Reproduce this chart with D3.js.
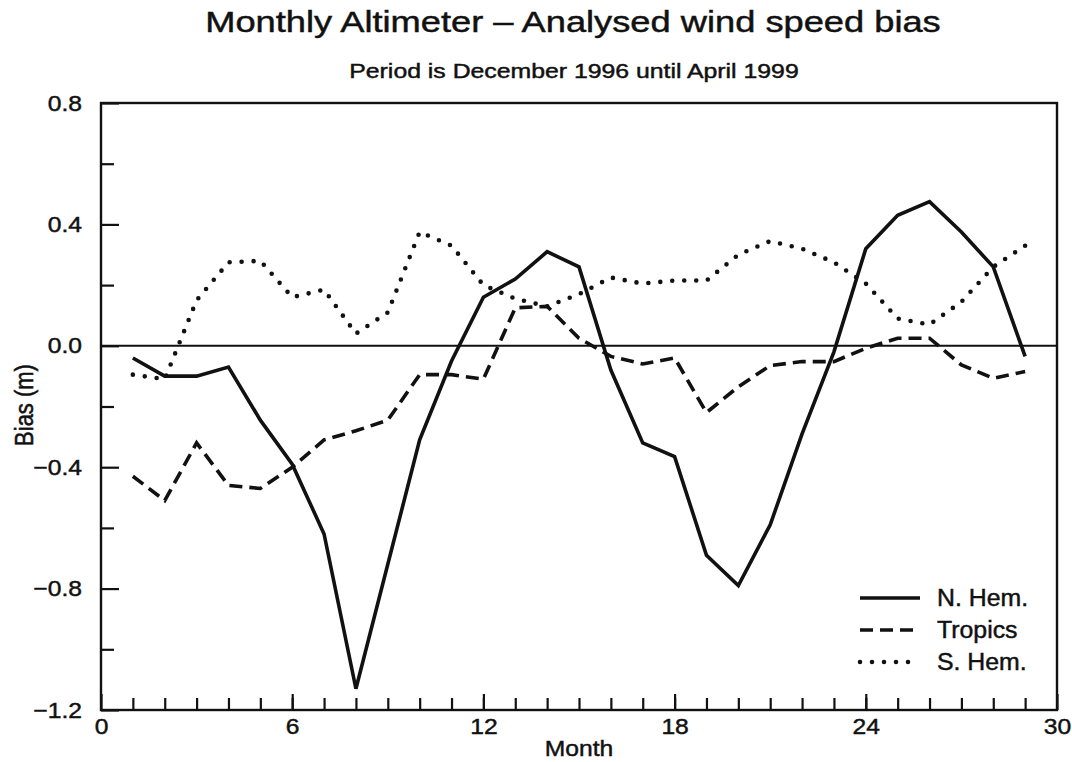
<!DOCTYPE html>
<html>
<head>
<meta charset="utf-8">
<script src="https://cdn.jsdelivr.net/npm/d3@7"></script>
<style>
  body { margin: 0; background: #fff; }
  svg { display: block; }
  text { font-family: "Liberation Sans", Arial, Helvetica, sans-serif; fill: #111; stroke: #111; stroke-width: 0.45; }
  .axis path { display: none; }
  .axis line { stroke: #111; stroke-width: 2.2; }
</style>
</head>
<body>
<svg id="chart"></svg>
<script>
// values
var months = [1,2,3,4,5,6,7,8,9,10,11,12,13,14,15,16,17,18,19,20,21,22,23,24,25,26,27,28,29];
var nHem = [-0.04,-0.10,-0.10,-0.07,-0.245,-0.39,-0.62,-1.13,-0.72,-0.31,-0.05,0.16,0.22,0.31,0.26,
            -0.08,-0.32,-0.365,-0.69,-0.79,-0.59,-0.29,-0.02,0.32,0.43,0.475,0.375,0.26,-0.035];
var tropics = [-0.43,-0.51,-0.32,-0.46,-0.47,-0.40,-0.31,-0.28,-0.245,-0.095,-0.095,-0.11,0.125,0.13,0.025,
               -0.035,-0.06,-0.04,-0.22,-0.135,-0.065,-0.052,-0.052,-0.008,0.025,0.025,-0.063,-0.107,-0.085];
var sHem = [-0.095,-0.11,0.15,0.275,0.28,0.16,0.185,0.04,0.11,0.375,0.33,0.20,0.155,0.13,0.17,
            0.225,0.205,0.215,0.215,0.30,0.345,0.32,0.275,0.205,0.09,0.07,0.145,0.26,0.33];
var xTicks = [0,6,12,18,24,30];
var yTicks = [0.8,0.4,0.0,-0.4,-0.8,-1.2];
var yMinor = [0.6,0.2,-0.2,-0.6,-1.0];
var seriesNames = ["N. Hem.","Tropics","S. Hem."];

var width = 1072, height = 762;
var margin = {"top":103, "right":15, "bottom":52, "left":101};

var svg = d3.select("#chart")
  .attr("width", width)
  .attr("height", height);

var x = d3.scaleLinear().domain([0, 30]).range([margin.left, width - margin.right]);
var y = d3.scaleLinear().domain([-1.2, 0.8]).range([height - margin.bottom, margin.top]);

// the scanned lettering is wider than the font, so stretch text sideways
function stretch(sel, f){
  sel.each(function(){
    var w = this.getComputedTextLength();
    d3.select(this).attr("textLength", w*f).attr("lengthAdjust", "spacingAndGlyphs");
  });
}

var styles = [
  {"dash": null, "width": 3.6, "cap": "butt"},
  {"dash": "13,7", "width": 3.6, "cap": "butt"},
  {"dash": "0,12", "width": 4.6, "cap": "round"}
];
var allSeries = [nHem, tropics, sHem];

// minor y ticks (inside)
svg.append("g")
  .attr("class", "axis")
  .attr("transform", "translate(" + margin.left + ",0)")
  .call(d3.axisLeft(y).tickValues(yMinor).tickSize(-13).tickFormat(""));
// major y ticks
var yAxis = svg.append("g")
  .attr("class", "axis")
  .attr("transform", "translate(" + margin.left + ",0)")
  .call(d3.axisLeft(y).tickValues(yTicks).tickSize(-18).tickPadding(19)
    .tickFormat(function(d){ return d3.format(".1f")(d).replace("-", "\u2212"); }));
yAxis.selectAll("text").attr("font-size", 22);
stretch(yAxis.selectAll("text"), 1.12);

// minor x ticks
svg.append("g")
  .attr("class", "axis")
  .attr("transform", "translate(0," + y(-1.2) + ")")
  .call(d3.axisBottom(x).tickValues(months).tickSize(-12).tickFormat(""));
var xAxis = svg.append("g")
  .attr("class", "axis")
  .attr("transform", "translate(0," + y(-1.2) + ")")
  .call(d3.axisBottom(x).tickValues(xTicks).tickSize(-16).tickPadding(8).tickFormat(d3.format("d")));
xAxis.selectAll("text").attr("font-size", 22);
stretch(xAxis.selectAll("text"), 1.12);

// zero line
svg.append("line")
  .attr("x1", x(0)).attr("x2", x(30))
  .attr("y1", y(0)).attr("y2", y(0))
  .attr("stroke", "#111").attr("stroke-width", 2);

// frame
svg.append("rect")
  .attr("x", x(0)).attr("y", y(0.8))
  .attr("width", x(30) - x(0)).attr("height", y(-1.2) - y(0.8))
  .attr("fill", "none").attr("stroke", "#111").attr("stroke-width", 2.4);

var line = d3.line()
  .x(function(d, i){ return x(months[i]); })
  .y(function(d){ return y(d); });

allSeries.forEach(function(s, i){
  svg.append("path")
    .datum(s)
    .attr("d", line)
    .attr("fill", "none")
    .attr("stroke", "#111")
    .attr("stroke-width", styles[i].width)
    .attr("stroke-linejoin", "miter")
    .attr("stroke-linecap", styles[i].cap)
    .attr("stroke-dasharray", styles[i].dash);
});

// legend
var legend = svg.append("g").attr("transform", "translate(860,598)");
seriesNames.forEach(function(name, i){
  var g = legend.append("g").attr("transform", "translate(0," + (i*32) + ")");
  g.append("line")
    .attr("x1", 0).attr("x2", i == 2 ? 52 : 60)
    .attr("y1", 0).attr("y2", 0)
    .attr("stroke", "#111")
    .attr("stroke-width", styles[i].width)
    .attr("stroke-linecap", styles[i].cap)
    .attr("stroke-dasharray", styles[i].dash);
  var t = g.append("text")
    .attr("x", 77).attr("y", 8)
    .attr("font-size", 23)
    .text(name);
  stretch(t, 1.08);
});

// titles
var title = svg.append("text")
  .attr("x", 573).attr("y", 32)
  .attr("text-anchor", "middle")
  .attr("font-size", 29)
  .text("Monthly Altimeter \u2013 Analysed wind speed bias");
stretch(title, 1.25);

var sub = svg.append("text")
  .attr("x", 574).attr("y", 78)
  .attr("text-anchor", "middle")
  .attr("font-size", 20)
  .text("Period is December 1996 until April 1999");
stretch(sub, 1.24);

var xl = svg.append("text")
  .attr("x", x(15)).attr("y", 756)
  .attr("text-anchor", "middle")
  .attr("font-size", 22)
  .text("Month");
stretch(xl, 1.12);

svg.append("text")
  .attr("transform", "translate(33,405) scale(1.2,1) rotate(-90)")
  .attr("text-anchor", "middle")
  .attr("font-size", 22)
  .text("Bias (m)");
</script>
</body>
</html>
